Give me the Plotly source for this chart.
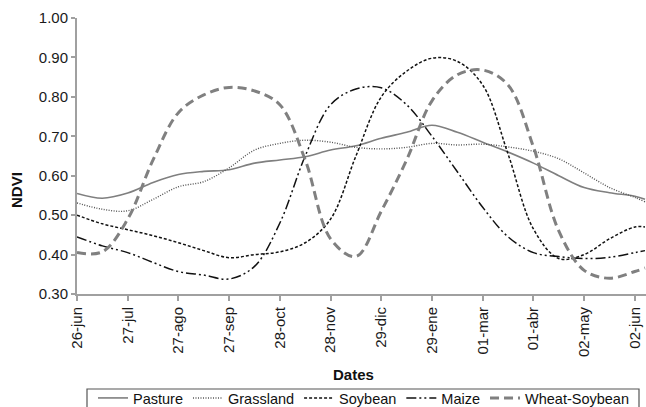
import plotly.graph_objects as go

# x positions in months since 26-jun (half-month sampling)
months = [0, 0.5, 1, 1.5, 2, 2.5, 3, 3.5, 4, 4.5, 5, 5.5, 6, 6.5, 7, 7.5, 8, 8.5, 9, 9.5, 10, 10.5, 11, 11.2]
tick_pos = [0, 1, 2, 3, 4, 5, 6, 7, 8, 9, 10, 11]
tick_labels = ["26-jun", "27-jul", "27-ago", "27-sep", "28-oct", "28-nov",
               "29-dic", "29-ene", "01-mar", "01-abr", "02-may", "02-jun"]

pasture = [0.555, 0.543, 0.556, 0.583, 0.603, 0.611, 0.615, 0.632, 0.640, 0.648, 0.665, 0.676,
           0.695, 0.710, 0.728, 0.710, 0.685, 0.660, 0.632, 0.600, 0.570, 0.557, 0.548, 0.540]
grassland = [0.531, 0.515, 0.511, 0.540, 0.572, 0.585, 0.620, 0.665, 0.682, 0.690, 0.685, 0.672,
             0.668, 0.672, 0.682, 0.678, 0.680, 0.673, 0.662, 0.643, 0.607, 0.570, 0.545, 0.534]
soybean = [0.500, 0.478, 0.463, 0.448, 0.430, 0.410, 0.392, 0.400, 0.407, 0.430, 0.490, 0.650,
           0.800, 0.865, 0.898, 0.890, 0.830, 0.655, 0.465, 0.390, 0.400, 0.440, 0.470, 0.470]
maize = [0.445, 0.422, 0.405, 0.380, 0.357, 0.348, 0.338, 0.370, 0.480, 0.650, 0.780, 0.820,
         0.823, 0.780, 0.700, 0.610, 0.520, 0.445, 0.405, 0.395, 0.390, 0.393, 0.405, 0.410]
wheat_soybean = [0.405, 0.407, 0.490, 0.640, 0.760, 0.805, 0.824, 0.815, 0.780, 0.640, 0.440, 0.395,
                 0.510, 0.640, 0.790, 0.856, 0.868, 0.830, 0.673, 0.460, 0.360, 0.340, 0.357, 0.366]

series = [
    ("Pasture", pasture, dict(color="#7f7f7f", width=1.6, dash="solid")),
    ("Grassland", grassland, dict(color="#555555", width=1.4, dash="1px,1.5px")),
    ("Soybean", soybean, dict(color="#111111", width=1.5, dash="3px,2px")),
    ("Maize", maize, dict(color="#111111", width=1.5, dash="10px,3px,2px,3px,2px,3px")),
    ("Wheat-Soybean", wheat_soybean, dict(color="#808080", width=3, dash="9px,5px")),
]

FONT = "Liberation Sans, Arial, sans-serif"
PW, PH = 569, 276  # plot area size in px (used to convert px offsets to paper coords)

fig = go.Figure()
for name, vals, line in series:
    fig.add_trace(go.Scatter(x=months, y=vals, mode="lines", name=name,
                             line=dict(shape="spline", smoothing=1.0, **line)))

fig.update_layout(
    width=646, height=407,
    margin=dict(l=77, r=0, t=18, b=113, autoexpand=False),
    paper_bgcolor="white", plot_bgcolor="white",
    font=dict(family=FONT, size=15, color="#1a1a1a"),
    showlegend=True,
    legend=dict(orientation="h", xref="paper", yref="paper",
                x=(93 - 77) / PW, y=-(382 - 294) / PH, xanchor="left", yanchor="top",
                borderwidth=0, bgcolor="rgba(0,0,0,0)",
                font=dict(family=FONT, size=14.5, color="#111111"),
                itemwidth=30, tracegroupgap=0),
    xaxis=dict(range=[0, 11.22], tickmode="array", tickvals=tick_pos, ticktext=tick_labels,
               tickangle=-90, showgrid=False, zeroline=False, showline=True, automargin=False,
               linecolor="#a0a0a0", linewidth=2, ticks="outside", ticklen=5,
               tickcolor="#a0a0a0", tickwidth=1.5, tickfont=dict(size=15)),
    yaxis=dict(range=[0.30, 1.00], tickmode="array",
               tickvals=[0.3, 0.4, 0.5, 0.6, 0.7, 0.8, 0.9, 1.0],
               ticktext=["0.30", "0.40", "0.50", "0.60", "0.70", "0.80", "0.90", "1.00"],
               showgrid=False, zeroline=False, showline=True, automargin=False,
               linecolor="#a0a0a0", linewidth=2, ticks="outside", ticklen=4,
               tickcolor="#a0a0a0", tickwidth=1.5, tickfont=dict(size=15)),
    shapes=[
        dict(type="rect", xref="paper", yref="paper",
             x0=(87 - 77) / PW, x1=(639 - 77) / PW, y0=-(389 - 294) / PH, y1=-(415 - 294) / PH,
             line=dict(color="#555555", width=1.2), fillcolor="rgba(0,0,0,0)", layer="below"),
    ],
    annotations=[
        dict(text="<b>Dates</b>", xref="paper", yref="paper", x=(353 - 77) / PW, y=-(374 - 294) / PH,
             showarrow=False, font=dict(size=15, family=FONT, color="#111111"),
             xanchor="center", yanchor="middle"),
        dict(text="<b>NDVI</b>", xref="paper", yref="paper", x=-(77 - 16) / PW, y=(294 - 190) / PH,
             showarrow=False, textangle=-90, font=dict(size=15, family=FONT, color="#111111"),
             xanchor="center", yanchor="middle"),
    ],
)

fig.write_html("out.html", config={"displayModeBar": False},
               post_script="document.body.style.margin='0px';")
